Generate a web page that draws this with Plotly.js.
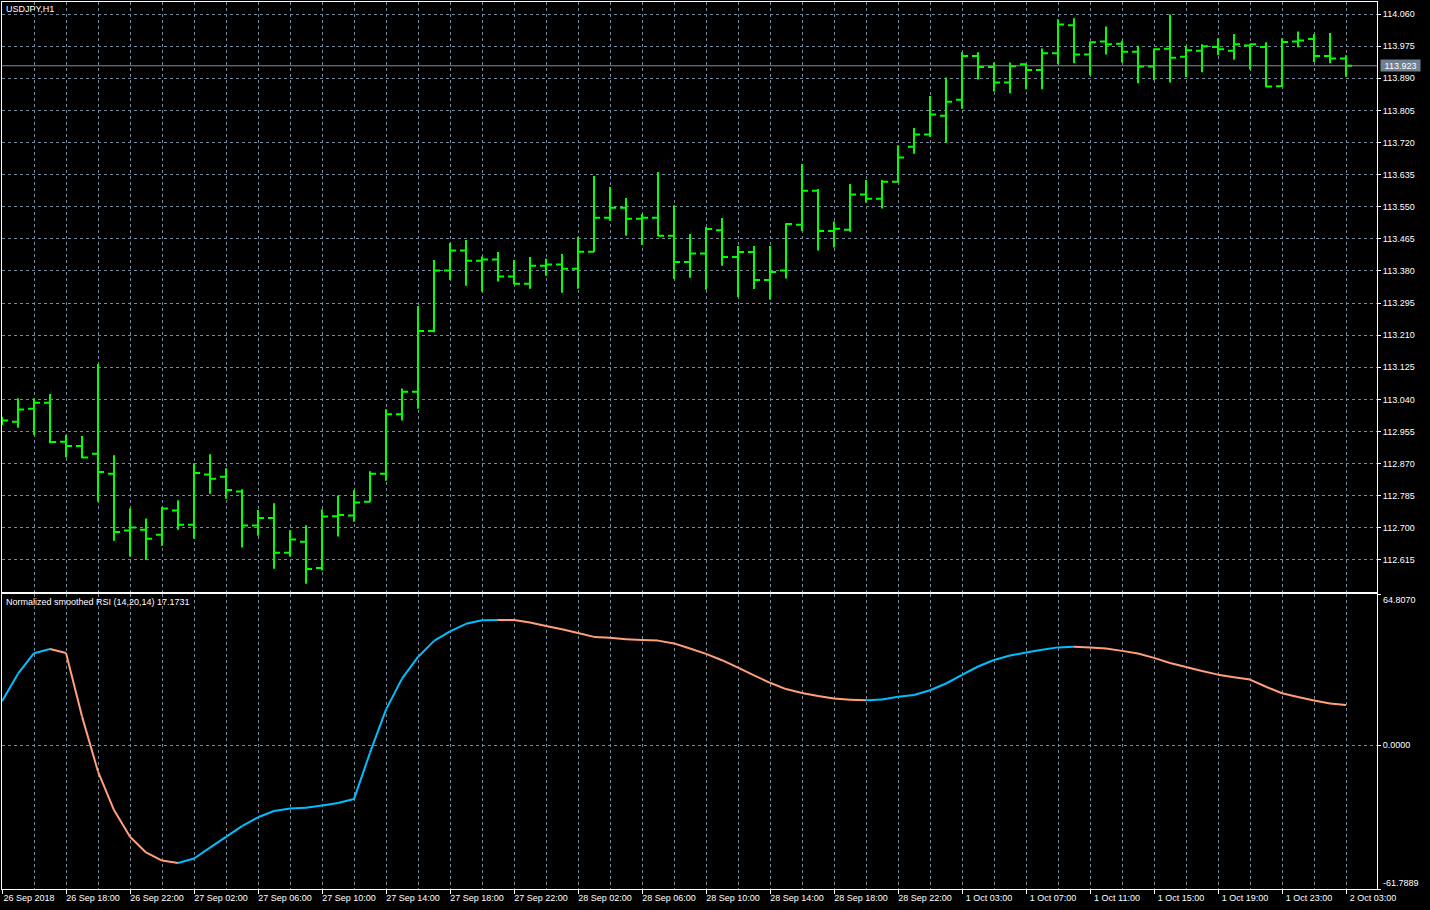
<!DOCTYPE html>
<html><head><meta charset="utf-8">
<script src="https://cdn.plot.ly/plotly-3.0.1.min.js"></script>
<style>html,body{margin:0;padding:0;background:#000;}#chart{width:1430px;height:910px;}</style>
</head><body><div id="chart"></div>
<script>
const symbolTitle = "USDJPY,H1";
const indicatorName = "Normalized smoothed RSI (14,20,14)";
const timeLabels = ["26 Sep 2018","26 Sep 18:00","26 Sep 22:00","27 Sep 02:00","27 Sep 06:00","27 Sep 10:00","27 Sep 14:00","27 Sep 18:00","27 Sep 22:00","28 Sep 02:00","28 Sep 06:00","28 Sep 10:00","28 Sep 14:00","28 Sep 18:00","28 Sep 22:00","1 Oct 03:00","1 Oct 07:00","1 Oct 11:00","1 Oct 15:00","1 Oct 19:00","1 Oct 23:00","2 Oct 03:00"];
const priceTickLabels = ["112.615","112.700","112.785","112.870","112.955","113.040","113.125","113.210","113.295","113.380","113.465","113.550","113.635","113.720","113.805","113.890","113.975","114.060"];
const rsiScaleLabels = ["64.8070","0.0000","-61.7889"];

const openP = [112.988,112.981,113.015,113.031,112.928,112.917,112.896,112.843,112.693,112.695,
112.682,112.746,112.708,112.841,112.835,112.796,112.706,112.726,112.634,112.663,
112.594,112.731,112.733,112.769,112.843,113.001,113.060,113.221,113.381,113.434,
113.407,113.410,113.365,113.346,113.394,113.397,113.386,113.431,113.521,113.547,
113.518,113.521,113.473,113.404,113.426,113.488,113.417,113.430,113.356,113.381,
113.502,113.592,113.486,113.489,113.582,113.571,113.616,113.709,113.741,113.791,
113.833,113.949,113.920,113.879,113.927,113.912,113.956,114.030,113.953,113.987,
113.981,113.960,113.921,113.968,113.947,113.963,113.973,113.963,113.977,113.973,
113.869,113.987,113.994,113.949,113.942];
const highP = [112.994,113.043,113.043,113.054,112.946,112.943,113.134,112.892,112.752,112.725,
112.755,112.773,112.871,112.895,112.858,112.802,112.747,112.765,112.694,112.707,
112.749,112.786,112.800,112.850,113.014,113.069,113.287,113.409,113.454,113.462,
113.418,113.430,113.409,113.417,113.412,113.425,113.470,113.631,113.602,113.573,
113.531,113.642,113.554,113.478,113.496,113.520,113.446,113.446,113.446,113.506,
113.663,113.597,113.511,113.610,113.621,113.621,113.713,113.758,113.843,113.892,
113.959,113.959,113.932,113.932,113.927,113.969,114.046,114.049,113.987,114.027,
113.989,113.976,113.969,114.059,113.976,113.980,113.996,114.007,113.981,113.985,
113.996,114.014,114.007,114.010,113.951];
const lowP = [112.972,112.965,112.946,112.924,112.886,112.884,112.769,112.666,112.624,112.615,
112.653,112.695,112.671,112.790,112.777,112.648,112.679,112.592,112.624,112.552,
112.587,112.677,112.716,112.768,112.825,112.984,113.015,113.218,113.356,113.341,
113.325,113.352,113.344,113.333,113.367,113.322,113.333,113.430,113.513,113.473,
113.449,113.472,113.359,113.362,113.330,113.394,113.311,113.332,113.304,113.360,
113.486,113.434,113.442,113.484,113.561,113.545,113.614,113.690,113.735,113.719,
113.809,113.887,113.855,113.850,113.861,113.861,113.927,113.930,113.898,113.953,
113.932,113.877,113.885,113.879,113.893,113.906,113.951,113.939,113.913,113.866,
113.868,113.972,113.933,113.930,113.894];
const closeP = [112.984,113.013,113.031,112.927,112.917,112.886,112.848,112.689,112.701,112.671,
112.751,112.708,112.845,112.830,112.800,112.706,112.726,112.634,112.669,112.591,
112.730,112.734,112.767,112.843,113.001,113.060,113.221,113.381,113.434,113.407,
113.410,113.365,113.346,113.394,113.397,113.386,113.431,113.521,113.547,113.518,
113.521,113.473,113.404,113.426,113.491,113.417,113.430,113.356,113.377,113.504,
113.592,113.486,113.492,113.582,113.571,113.616,113.680,113.741,113.794,113.828,
113.949,113.920,113.879,113.922,113.912,113.956,114.032,113.953,113.985,113.980,
113.960,113.921,113.967,113.944,113.964,113.975,113.967,113.980,113.980,113.868,
113.986,113.990,113.949,113.942,113.923];
const rsi = [18.8,30.6,39.4,41.2,39.5,12.3,-11.4,-27.9,-39.4,-46.1,
-49.6,-50.6,-48.7,-44.0,-39.4,-34.8,-31.0,-28.3,-27.2,-26.9,
-26.0,-24.9,-23.2,-3.3,15.2,28.5,37.8,44.7,48.8,52.0,
53.5,53.7,53.6,52.6,51.1,49.7,48.1,46.4,46.0,45.4,
45.1,44.8,43.6,41.4,39.1,36.4,33.2,29.9,26.7,24.0,
22.3,21.0,20.0,19.4,19.2,19.5,20.7,21.5,23.5,26.4,
30.1,33.7,36.5,38.4,39.7,40.9,41.9,42.2,41.9,41.4,
40.4,39.3,37.4,35.2,33.5,31.8,30.2,29.1,28.1,25.0,
22.2,20.6,19.1,17.8,17.1731];

const FONT = "Liberation Sans, Arial, sans-serif";
const GRID = "#778899";
const DASH = "3px,3px";
const BULL = "#00FF00";
const n = closeP.length;
const idx = closeP.map((_, i) => i);
const barsPerLabel = 4;
const labelPos = timeLabels.map((_, k) => k * barsPerLabel);
const gridPos = idx.filter(i => i % 2 === 0);
const xRange = [0, 85.9375];
const priceVals = priceTickLabels.map(Number);
const rsiVals = rsiScaleLabels.map(Number);

const upX = [], upY = [], dnX = [], dnY = [];
for (let i = 1; i < n; i++) {
  const up = rsi[i] >= rsi[i - 1];
  (up ? upX : dnX).push(i - 1, i, null);
  (up ? upY : dnY).push(rsi[i - 1], rsi[i], null);
}

const traces = [
  {type: 'ohlc', x: idx, open: openP, high: highP, low: lowP, close: closeP,
   xaxis: 'x', yaxis: 'y', tickwidth: 0.375, hoverinfo: 'none', showlegend: false,
   increasing: {line: {color: BULL, width: 2}}, decreasing: {line: {color: BULL, width: 2}}},
  {type: 'scatter', mode: 'lines', x: upX, y: upY, xaxis: 'x2', yaxis: 'y2',
   line: {color: '#00BFFF', width: 2}, connectgaps: false, hoverinfo: 'none', showlegend: false},
  {type: 'scatter', mode: 'lines', x: dnX, y: dnY, xaxis: 'x2', yaxis: 'y2',
   line: {color: '#FFA07A', width: 2}, connectgaps: false, hoverinfo: 'none', showlegend: false}
];

const tickFont = {family: FONT, size: 9, color: '#ffffff'};
const lastClose = closeP[n - 1];

const layout = {
  width: 1430, height: 910,
  paper_bgcolor: '#000000', plot_bgcolor: '#000000',
  margin: {l: 2, r: 53, t: 2, b: 21},
  showlegend: false,
  font: {family: FONT, size: 9, color: '#ffffff'},
  xaxis: {domain: [0, 1], anchor: 'y', range: xRange, rangeslider: {visible: false},
    tickmode: 'array', tickvals: gridPos, showticklabels: false, ticks: '',
    showgrid: true, gridcolor: GRID, griddash: DASH, gridwidth: 1, zeroline: false,
    showline: true, mirror: true, linecolor: '#ffffff', linewidth: 1, fixedrange: true},
  yaxis: {domain: [0.33484, 1], anchor: 'x', range: [112.5303, 114.0918], side: 'right',
    tickmode: 'array', tickvals: priceVals, ticktext: priceTickLabels,
    ticks: 'outside', ticklen: 3, tickcolor: '#ffffff', tickfont: tickFont,
    showgrid: true, gridcolor: GRID, griddash: DASH, zeroline: false,
    showline: true, mirror: true, linecolor: '#ffffff', linewidth: 1, fixedrange: true},
  xaxis2: {domain: [0, 1], anchor: 'y2', range: xRange,
    tickmode: 'array', tickvals: labelPos, ticktext: timeLabels,
    ticks: 'outside', ticklen: 4, tickcolor: '#ffffff', tickfont: tickFont,
    ticklabelshift: 27, ticklabelstandoff: -4,
    showgrid: true, gridcolor: GRID, griddash: DASH, zeroline: false,
    minor: {tickmode: 'array', tickvals: gridPos, showgrid: true, gridcolor: GRID, griddash: DASH, ticks: ''},
    showline: true, mirror: true, linecolor: '#ffffff', linewidth: 1, fixedrange: true},
  yaxis2: {domain: [0, 0.33258], anchor: 'x2', range: [rsiVals[2], rsiVals[0]], side: 'right',
    tickmode: 'array', tickvals: rsiVals, ticktext: ['', rsiScaleLabels[1], ''],
    ticks: 'outside', ticklen: 3, tickcolor: '#ffffff', tickfont: tickFont,
    showgrid: true, gridcolor: GRID, griddash: DASH, zeroline: false,
    showline: true, mirror: true, linecolor: '#ffffff', linewidth: 1, fixedrange: true},
  shapes: [
    {type: 'line', xref: 'paper', x0: 0, x1: 1, yref: 'y', y0: lastClose, y1: lastClose,
     line: {color: '#8c8c8c', width: 1}}
  ],
  annotations: [
    {text: symbolTitle, xref: 'paper', yref: 'paper', x: 0, y: 1, xanchor: 'left', yanchor: 'top',
     xshift: 3, yshift: -1, showarrow: false, borderpad: 0, font: {family: FONT, size: 9, color: '#ffffff'}},
    {text: indicatorName + ' ' + rsi[n - 1].toFixed(4), xref: 'paper', yref: 'paper', x: 0, y: 0.33258,
     xanchor: 'left', yanchor: 'top', xshift: 3, yshift: -2, showarrow: false, borderpad: 0,
     font: {family: FONT, size: 9, color: '#ffffff'}},
    {text: lastClose.toFixed(3), xref: 'paper', yref: 'y', x: 1, y: lastClose, xanchor: 'left', yanchor: 'middle',
     xshift: 3, showarrow: false, bgcolor: '#708090', borderpad: 0, width: 39, height: 11,
     font: {family: FONT, size: 9, color: '#ffffff'}},
    {text: rsiScaleLabels[0], xref: 'paper', yref: 'y2', x: 1, y: rsiVals[0], xanchor: 'left', yanchor: 'top',
     xshift: 5, showarrow: false, borderpad: 0, font: {family: FONT, size: 9, color: '#ffffff'}},
    {text: rsiScaleLabels[2], xref: 'paper', yref: 'y2', x: 1, y: rsiVals[2], xanchor: 'left', yanchor: 'bottom',
     xshift: 5, showarrow: false, borderpad: 0, font: {family: FONT, size: 9, color: '#ffffff'}}
  ]
};

Plotly.newPlot('chart', traces, layout, {displayModeBar: false, staticPlot: true});
</script>
</body></html>
